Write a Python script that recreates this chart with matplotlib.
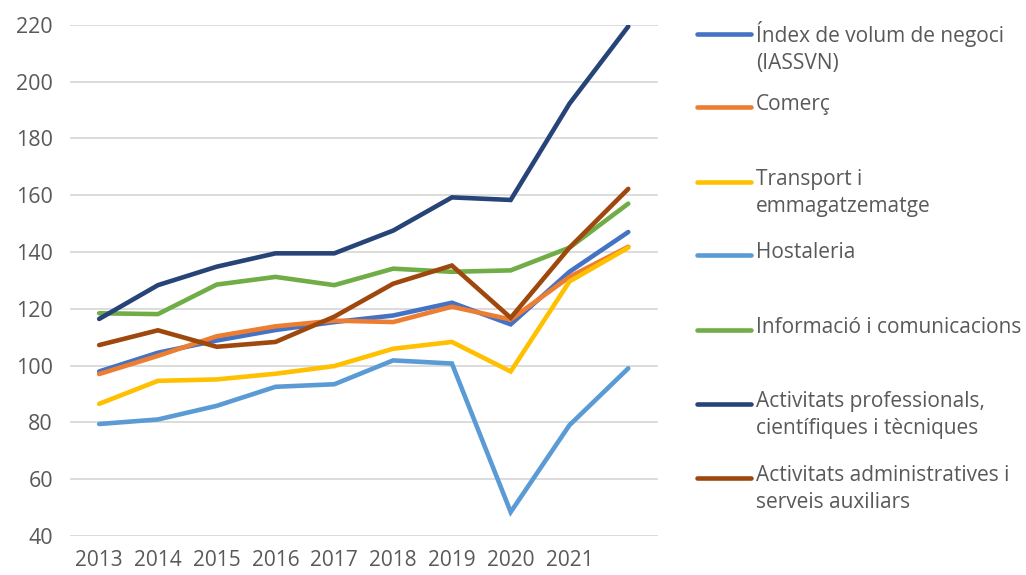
import matplotlib
matplotlib.use("Agg")
import matplotlib.pyplot as plt
from matplotlib.lines import Line2D

years = [2013, 2014, 2015, 2016, 2017, 2018, 2019, 2020, 2021, 2022]
year_labels = ["2013", "2014", "2015", "2016", "2017", "2018", "2019", "2020", "2021", ""]

iassvn = [97.9, 104.5, 108.8, 112.5, 115.3, 117.6, 122.1, 114.5, 133.0, 147.0]
comerc = [97.0, 103.4, 110.3, 113.8, 115.8, 115.3, 120.7, 116.2, 131.2, 141.8]
transport = [86.5, 94.6, 95.1, 97.1, 99.8, 105.9, 108.3, 97.9, 129.6, 141.5]
hostaleria = [79.4, 81.0, 85.8, 92.5, 93.4, 101.8, 100.7, 48.4, 79.0, 99.0]
informacio = [118.4, 118.1, 128.5, 131.2, 128.3, 134.1, 133.0, 133.5, 141.5, 157.0]
professionals = [116.4, 128.3, 134.8, 139.5, 139.5, 147.5, 159.2, 158.3, 192.2, 219.4]
administratives = [107.2, 112.4, 106.6, 108.3, 117.2, 128.8, 135.2, 116.8, 141.5, 162.2]

labels = ["Índex de volum de negoci\n(IASSVN)", "Comerç", "Transport i\nemmagatzematge",
          "Hostaleria", "Informació i comunicacions",
          "Activitats professionals,\ncientífiques i tècniques",
          "Activitats administratives i\nserveis auxiliars"]
series = [iassvn, comerc, transport, hostaleria, informacio, professionals, administratives]
colors = ["#4472C4", "#ED7D31", "#FFC000", "#5B9BD5", "#70AD47", "#264478", "#9E480E"]

plt.rcParams["font.family"] = ["Open Sans", "DejaVu Sans"]
txt = "#595959"

fig = plt.figure(figsize=(10.26, 5.75), dpi=100)
ax = fig.add_axes([0.068, 0.068, 0.573, 0.889])
x = list(range(len(years)))
for vals, c in zip(series, colors):
    ax.plot(x, vals, color=c, lw=3.3, solid_capstyle="round", solid_joinstyle="miter", zorder=3)

ax.set_xlim(-0.5, len(years) - 0.5)
ax.set_ylim(40, 220)
ax.set_yticks(range(40, 221, 20))
ax.set_xticks(x)
ax.set_xticklabels(year_labels)
ax.grid(axis="y", color="#D9D9D9", lw=1.3, zorder=0)
for s in ax.spines.values():
    s.set_visible(False)
ax.tick_params(length=0, labelsize=15.5, labelcolor=txt)
ax.tick_params(axis="y", pad=12)
ax.tick_params(axis="x", labelsize=15, pad=10)

# legend drawn by hand to the right of the plot
ys = [34, 107, 182, 255, 330, 404, 478]
for yy, lab, c in zip(ys, labels, colors):
    yf = 1 - yy / 575
    fig.add_artist(Line2D([697 / 1026, 751 / 1026], [yf, yf], color=c, lw=3.3,
                          solid_capstyle="round", transform=fig.transFigure))
    fig.text(756 / 1026, yf + 13 / 575, lab, ha="left", va="top", fontsize=15,
             color=txt, linespacing=1.35)

fig.savefig("out.png", dpi=100)
